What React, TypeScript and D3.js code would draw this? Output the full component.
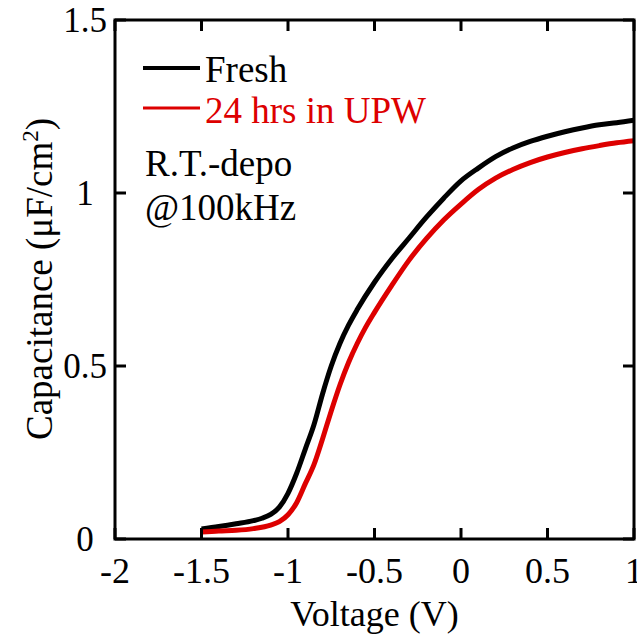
import React from "react";
import * as d3 from "d3";

const freshV = [-1.5, -1.4, -1.3, -1.2, -1.15, -1.1, -1.05, -1.0, -0.95, -0.9, -0.85, -0.8, -0.75, -0.7, -0.65, -0.6, -0.5, -0.4, -0.3, -0.2, -0.1, 0, 0.1, 0.2, 0.3, 0.4, 0.5, 0.6, 0.7, 0.8, 0.9, 1.0];
const freshC = [0.029, 0.036, 0.044, 0.053, 0.06, 0.071, 0.092, 0.132, 0.19, 0.26, 0.33, 0.42, 0.5, 0.565, 0.618, 0.663, 0.742, 0.81, 0.87, 0.93, 0.985, 1.035, 1.072, 1.105, 1.13, 1.149, 1.164, 1.177, 1.188, 1.197, 1.203, 1.21];

const upwV = [-1.5, -1.4, -1.3, -1.2, -1.1, -1.05, -1.0, -0.95, -0.9, -0.85, -0.8, -0.75, -0.7, -0.65, -0.6, -0.55, -0.5, -0.4, -0.3, -0.2, -0.1, 0, 0.1, 0.2, 0.3, 0.4, 0.5, 0.6, 0.7, 0.8, 0.9, 1.0];
const upwC = [0.02, 0.023, 0.025, 0.03, 0.04, 0.05, 0.07, 0.105, 0.16, 0.215, 0.29, 0.37, 0.445, 0.51, 0.565, 0.613, 0.655, 0.733, 0.806, 0.868, 0.922, 0.968, 1.01, 1.043, 1.068, 1.088, 1.104, 1.117, 1.128, 1.137, 1.145, 1.151];

const xTicks = [-2, -1.5, -1, -0.5, 0, 0.5, 1];
const xTickLabels = ["-2", "-1.5", "-1", "-0.5", "0", "0.5", "1"];
const yTicks = [0, 0.5, 1, 1.5];
const yTickLabels = ["0", "0.5", "1", "1.5"];

const seriesNames = ["Fresh", "24 hrs in UPW"];
const seriesColors = ["#000000", "#dd0000"];
const annotations = ["R.T.-depo", "@100kHz"];

const FONT = "Liberation Serif, Times New Roman, Times, DejaVu Serif, serif";

export default function App() {
  const L = 115, R = 634, T = 20, B = 539;
  const x = d3.scaleLinear().domain([-2, 1]).range([L, R]);
  const y = d3.scaleLinear().domain([0, 1.5]).range([B, T]);
  const line = d3.line<[number, number]>().x(d => x(d[0])).y(d => y(d[1])).curve(d3.curveMonotoneX);
  const fresh = freshV.map((v, i) => [v, freshC[i]] as [number, number]);
  const upw = upwV.map((v, i) => [v, upwC[i]] as [number, number]);
  const tl = 11;
  const ts = { fontFamily: FONT } as React.CSSProperties;

  return (
    <svg width={637} height={637} style={{ position: "absolute", left: 0, top: 0, background: "#fff", fontFamily: FONT }}>
      <defs>
        <clipPath id="plot"><rect x={L} y={T} width={R - L} height={B - T} /></clipPath>
      </defs>
      <g clipPath="url(#plot)">
        <path d={line(fresh) || ""} fill="none" stroke={seriesColors[0]} strokeWidth={5} strokeLinejoin="round" />
        <path d={line(upw) || ""} fill="none" stroke={seriesColors[1]} strokeWidth={5} strokeLinejoin="round" />
      </g>
      {xTicks.map((t, i) => (
        <g key={"xt" + i}>
          <line x1={x(t)} x2={x(t)} y1={B} y2={B - tl} stroke="#000" strokeWidth={3} />
          <line x1={x(t)} x2={x(t)} y1={T} y2={T + tl} stroke="#000" strokeWidth={3} />
          <text style={ts} x={x(t)} y={583} fontSize={36} textAnchor="middle">{xTickLabels[i]}</text>
        </g>
      ))}
      {yTicks.map((t, i) => (
        <g key={"yt" + i}>
          <line x1={L} x2={L + tl} y1={y(t)} y2={y(t)} stroke="#000" strokeWidth={3} />
          <line x1={R} x2={R - tl} y1={y(t)} y2={y(t)} stroke="#000" strokeWidth={3} />
          <text style={ts} x={85} y={y(t)} dy="0.35em" fontSize={35} textAnchor="middle">{yTickLabels[i]}</text>
        </g>
      ))}
      <rect x={L} y={T} width={R - L} height={B - T} fill="none" stroke="#000" strokeWidth={3} />
      <text style={ts} x={(L + R) / 2} y={626} fontSize={36} textAnchor="middle">Voltage (V)</text>
      <text style={ts} transform={`translate(52,279) rotate(-90)`} fontSize={37} textAnchor="middle">
        Capacitance (μF/cm<tspan fontSize={23} dy={-14}>2</tspan><tspan dy={14}>)</tspan>
      </text>
      <line x1={143} x2={200} y1={68} y2={68} stroke={seriesColors[0]} strokeWidth={4} />
      <text style={ts} x={205} y={82} fontSize={37} fill={seriesColors[0]}>{seriesNames[0]}</text>
      <line x1={143} x2={200} y1={108} y2={108} stroke={seriesColors[1]} strokeWidth={3} />
      <text style={ts} x={205} y={123} fontSize={37} fill={seriesColors[1]}>{seriesNames[1]}</text>
      <text style={ts} x={145} y={176} fontSize={37}>{annotations[0]}</text>
      <text style={ts} x={145} y={220} fontSize={37}>{annotations[1]}</text>
    </svg>
  );
}
